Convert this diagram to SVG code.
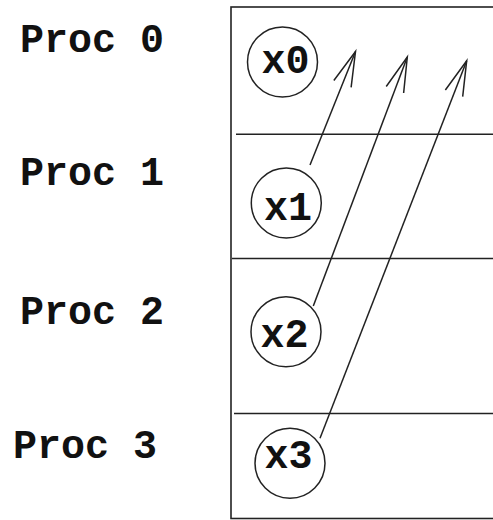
<svg xmlns="http://www.w3.org/2000/svg" width="493" height="520" viewBox="0 0 493 520">
<style>
.lbl{font-family:"Liberation Mono","Courier New",monospace;font-weight:bold;font-size:40px;fill:#111}
.nd{font-family:"Liberation Mono","Courier New",monospace;font-weight:bold;font-size:40px;fill:#111;text-anchor:middle}
.ci{fill:#fff;stroke:#222;stroke-width:1.5}
.fr{fill:none;stroke:#222;stroke-width:1.6}
.ar{fill:none;stroke:#222;stroke-width:1.5;marker-end:url(#vh)}
</style>
<defs>
<marker id="vh" markerUnits="userSpaceOnUse" viewBox="-40 -12 44 24" refX="0" refY="0" markerWidth="44" markerHeight="24" orient="auto" overflow="visible">
<path d="M-35,-9.3 L0,0 L-35,9.3" fill="none" stroke="#222" stroke-width="1.5"/>
</marker>
</defs>
<rect width="493" height="520" fill="#fff"/>
<g id="frame">
<rect class="fr" x="231" y="7" width="300" height="511.5"/>
<line class="fr" x1="236" y1="134.3" x2="493" y2="134.3"/>
<line class="fr" x1="232" y1="258.5" x2="493" y2="258.5"/>
<line class="fr" x1="234" y1="413.5" x2="493" y2="413.5"/>
</g>
<g id="labels">
<text class="lbl" x="20" y="51.5">Proc 0</text>
<text class="lbl" x="20" y="185">Proc 1</text>
<text class="lbl" x="20" y="324">Proc 2</text>
<text class="lbl" x="13" y="457.5">Proc 3</text>
</g>
<g id="x0"><circle class="ci" cx="282.5" cy="62" r="35"/><text class="nd" x="285.5" y="73.3">x0</text></g>
<g id="x1"><circle class="ci" cx="286.3" cy="203" r="35"/><text class="nd" x="288" y="220">x1</text></g>
<g id="x2"><circle class="ci" cx="286" cy="331.7" r="35"/><text class="nd" x="284.5" y="347.3">x2</text></g>
<g id="x3"><circle class="ci" cx="290" cy="463.3" r="35"/><text class="nd" x="288.5" y="468.3">x3</text></g>
<g id="connectors">
<line class="ar" x1="310" y1="165" x2="355.5" y2="51.5"/>
<line class="ar" x1="313.3" y1="306" x2="407.3" y2="57"/>
<line class="ar" x1="320" y1="438.3" x2="466.7" y2="60.7"/>
</g>
</svg>
